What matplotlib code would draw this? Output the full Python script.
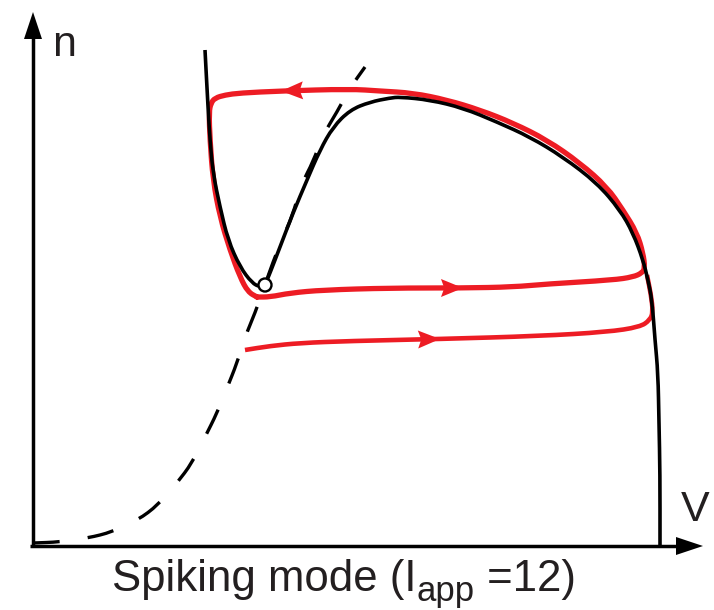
import numpy as np
import matplotlib
matplotlib.use("Agg")
import matplotlib.pyplot as plt
from matplotlib.patches import Polygon, Circle, PathPatch
from matplotlib.path import Path

plt.rcParams['font.family'] = ['Liberation Sans', 'DejaVu Sans']

RED = '#ed1c24'
INK = '#231f20'

# V-nullcline (cubic), points along the curve
vnull_V = [172, 175, 177, 180, 187, 195, 207, 219, 227, 232, 237, 247, 260, 274,
           287, 300, 317, 337, 357, 367, 397, 430, 464, 497, 530, 564, 587, 600,
           610, 615, 619, 622, 625, 626, 627, 627]
vnull_n = [496, 439, 406, 373, 339, 306, 279, 263, 259, 261, 273, 299, 333, 366,
           396, 419, 436, 444, 448, 449, 446, 438, 424, 409, 389, 363, 336, 313,
           286, 266, 246, 206, 173, 123, 73, 1]

# n-nullcline (sigmoid), dashed
nnull_V = [0, 27, 55, 79, 105, 125, 144, 159, 172, 184, 194, 204, 212, 222, 232,
           240, 250, 259, 269, 280, 290, 304, 317, 332]
nnull_n = [3, 4, 8, 14, 26, 41, 63, 83, 109, 133, 158, 183, 209, 233, 261,
           284, 309, 329, 363, 384, 411, 434, 458, 479]

# limit cycle, in the direction of the flow
cycle_V = [224, 237, 257, 290, 357, 430, 480, 514, 580, 600, 609, 612, 610, 604,
           590, 574, 547, 514, 480, 447, 414, 380, 347, 317, 248, 207, 192, 182,
           178, 176, 177, 180, 187, 197, 207, 215, 224]
cycle_n = [249, 249, 253, 256, 258, 258, 259, 262, 266, 269, 273, 278, 293, 313,
           336, 359, 383, 406, 423, 436, 446, 453, 455, 457, 455, 453, 451, 448,
           443, 434, 406, 366, 329, 296, 269, 254, 249]

# trajectory from below, joining the cycle
traj_V = [212, 237, 267, 317, 407, 507, 574, 607, 617, 620, 618, 614]
traj_n = [196, 200, 203, 205, 207, 210, 214, 219, 226, 234, 251, 271]

fixed_point = (232, 261)

cycle_arrows = [24, 5]   # vertex indices of arrow tips
traj_arrows = [4]

title_parts = ['Spiking mode (I', 'app', ' =12)']


def smooth_path(xs, ys):
    # quadratic bezier through the midpoints, points act as control points
    pts = np.column_stack([xs, ys]).astype(float)
    mids = (pts[:-1] + pts[1:]) / 2
    verts = [pts[0], mids[0]]
    codes = [Path.MOVETO, Path.LINETO]
    for k in range(1, len(pts) - 1):
        verts += [pts[k], mids[k]]
        codes += [Path.CURVE3, Path.CURVE3]
    verts.append(pts[-1])
    codes.append(Path.LINETO)
    return Path(verts, codes)


def draw_curve(ax, xs, ys, z, **kw):
    ax.add_patch(PathPatch(smooth_path(xs, ys), facecolor='none', zorder=z,
                           joinstyle='round', **kw))


def head(ax, p0, p1, length, half, color, notch=1.0, z=5):
    d = np.array([p1[0] - p0[0], p1[1] - p0[1]], float)
    d /= np.hypot(*d)
    perp = np.array([-d[1], d[0]])
    tip = np.array(p1, float)
    base = tip - d * length
    mid = tip - d * length * notch
    ax.add_patch(Polygon([tip, base + perp * half, mid, base - perp * half],
                         closed=True, facecolor=color, edgecolor='none', zorder=z))


fig = plt.figure(figsize=(7.14, 6.10), dpi=100)
ax = fig.add_axes([0, 0, 1, 1])
ax.set_xlim(-33, 681)
ax.set_ylim(-64, 546)
ax.axis('off')

# axes with arrows
ax.plot([-3, 645], [0, 0], color='black', lw=2.5, solid_capstyle='butt', zorder=3)
ax.plot([0, 0], [-1, 510], color='black', lw=2.5, solid_capstyle='butt', zorder=3)
head(ax, (0, 0), (670, 0), 27, 9, 'black')
head(ax, (0, 0), (0, 534), 27, 9, 'black')

# trajectories
draw_curve(ax, cycle_V, cycle_n, 1, edgecolor=RED, lw=3.8, capstyle='round')
draw_curve(ax, traj_V, traj_n, 1, edgecolor=RED, lw=3.3, capstyle='butt')
for i in cycle_arrows:
    head(ax, (cycle_V[i - 1], cycle_n[i - 1]), (cycle_V[i], cycle_n[i]), 22, 9, RED, 0.85)
for i in traj_arrows:
    head(ax, (traj_V[i - 1], traj_n[i - 1]), (traj_V[i], traj_n[i]), 22, 9, RED, 0.85)

# nullclines
draw_curve(ax, vnull_V, vnull_n, 2, edgecolor='black', lw=2.6, capstyle='butt')
ax.add_patch(PathPatch(smooth_path(nnull_V, nnull_n), facecolor='none',
                       edgecolor='black', lw=2.4, linestyle=(0, (8, 8.5)),
                       capstyle='butt', zorder=2))

ax.add_patch(Circle(fixed_point, 6.5, facecolor='white', edgecolor='black',
                    lw=1.7, zorder=4))

ax.text(31, 501, 'n', fontsize=31, color=INK, ha='center', va='center')
ax.text(662, 36, 'V', fontsize=31, color=INK, ha='center', va='center')

# caption with a large subscript, pieces laid out left to right
renderer = fig.canvas.get_renderer()
x = 79
for txt, size, drop in zip(title_parts, [31.5, 25, 31.5], [0, 10, 0]):
    t = ax.text(x, -45 - drop, txt, fontsize=size, color=INK,
                ha='left', va='baseline')
    x = t.get_window_extent(renderer).x1 - 33

fig.savefig('out.png', dpi=100)
